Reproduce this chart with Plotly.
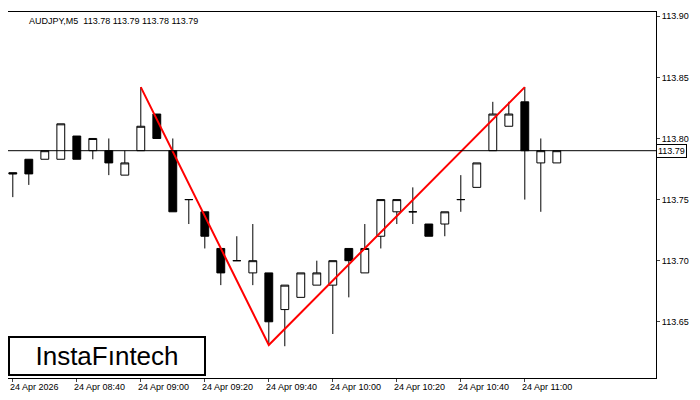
import plotly.graph_objects as go

opens  = [113.772,113.783,113.783,113.783,113.802,113.790,113.790,113.770,113.790,113.820,113.790,113.750,113.740,113.710,113.700,113.690,113.690,113.660,113.670,113.680,113.680,113.710,113.690,113.720,113.740,113.740,113.730,113.730,113.750,113.760,113.790,113.810,113.830,113.780,113.780]
highs  = [113.772,113.783,113.790,113.812,113.802,113.800,113.800,113.790,113.842,113.820,113.800,113.750,113.740,113.710,113.720,113.730,113.690,113.680,113.690,113.700,113.700,113.710,113.730,113.750,113.750,113.760,113.730,113.740,113.770,113.780,113.830,113.830,113.842,113.800,113.790]
lows   = [113.752,113.762,113.783,113.783,113.783,113.783,113.770,113.770,113.790,113.800,113.740,113.730,113.710,113.680,113.700,113.680,113.631,113.630,113.670,113.680,113.640,113.670,113.690,113.710,113.730,113.730,113.720,113.720,113.740,113.760,113.790,113.810,113.750,113.740,113.780]
closes = [113.771,113.771,113.790,113.812,113.783,113.800,113.780,113.780,113.810,113.800,113.740,113.750,113.720,113.690,113.700,113.700,113.650,113.680,113.690,113.690,113.700,113.700,113.710,113.750,113.750,113.740,113.720,113.740,113.750,113.780,113.820,113.820,113.790,113.790,113.790]
tick_idx = [0,4,8,12,16,20,24,28,32]
tick_lab = ["24 Apr 2026","24 Apr 08:40","24 Apr 09:00","24 Apr 09:20","24 Apr 09:40","24 Apr 10:00","24 Apr 10:20","24 Apr 10:40","24 Apr 11:00"]
pattern_x = [8,16,32]
pattern_y = [113.842,113.631,113.842]
last_price = 113.79

x = list(range(len(opens)))
fig = go.Figure()
fig.add_trace(go.Candlestick(x=x, open=opens, high=highs, low=lows, close=closes,
    increasing=dict(line=dict(color="black", width=1), fillcolor="white"),
    decreasing=dict(line=dict(color="black", width=1), fillcolor="black"),
    whiskerwidth=0, showlegend=False, hoverinfo="skip"))
fig.add_trace(go.Scatter(x=pattern_x, y=pattern_y, mode="lines",
    line=dict(color="#ff0000", width=2), showlegend=False))
fig.add_hline(y=last_price, line=dict(color="black", width=1))
for i, t in zip(tick_idx, tick_lab):
    fig.add_annotation(x=i, y=0, xref="x", yref="paper", yshift=-2, text=t, showarrow=False,
        xanchor="left", yanchor="top", xshift=-5, font=dict(size=9, color="black", family="Arial"))
fig.add_annotation(x=1, y=last_price, xref="paper", yref="y", text="113.79", showarrow=False,
    xanchor="left", bgcolor="white", bordercolor="black", borderwidth=1, borderpad=1,
    font=dict(size=9, color="black", family="Arial"))
fig.add_annotation(x=0.03, y=0.995, xref="paper", yref="paper",
    text="AUDJPY,M5  113.78 113.79 113.78 113.79", showarrow=False,
    xanchor="left", yanchor="top", font=dict(size=9, color="black", family="Arial"))
fig.add_annotation(x=0.0, y=0.005, xref="paper", yref="paper", text="InstaFıntech",
    showarrow=False, xanchor="left", yanchor="bottom", bgcolor="white",
    bordercolor="black", borderwidth=2, borderpad=4, width=186, height=28,
    font=dict(size=26, color="black", family="Arial"))
fig.update_layout(width=692, height=392, margin=dict(l=0, r=44, t=4, b=22),
    paper_bgcolor="white", plot_bgcolor="white",
    xaxis=dict(range=[-0.3, 40.2], rangeslider=dict(visible=False), tickvals=tick_idx,
        ticktext=[""]*len(tick_idx), ticks="outside", ticklen=3, showgrid=False,
        showline=True, linecolor="black", mirror=True, zeroline=False),
    yaxis=dict(range=[113.604, 113.9035], side="right", tickvals=[113.65,113.70,113.75,113.80,113.85,113.90],
        ticktext=["113.65","113.70","113.75","113.80","113.85","113.90"], ticks="outside", ticklen=3,
        showgrid=False, showline=True, linecolor="black", mirror=True, zeroline=False,
        tickfont=dict(size=9, color="black", family="Arial")))
fig.write_html("out.html")
